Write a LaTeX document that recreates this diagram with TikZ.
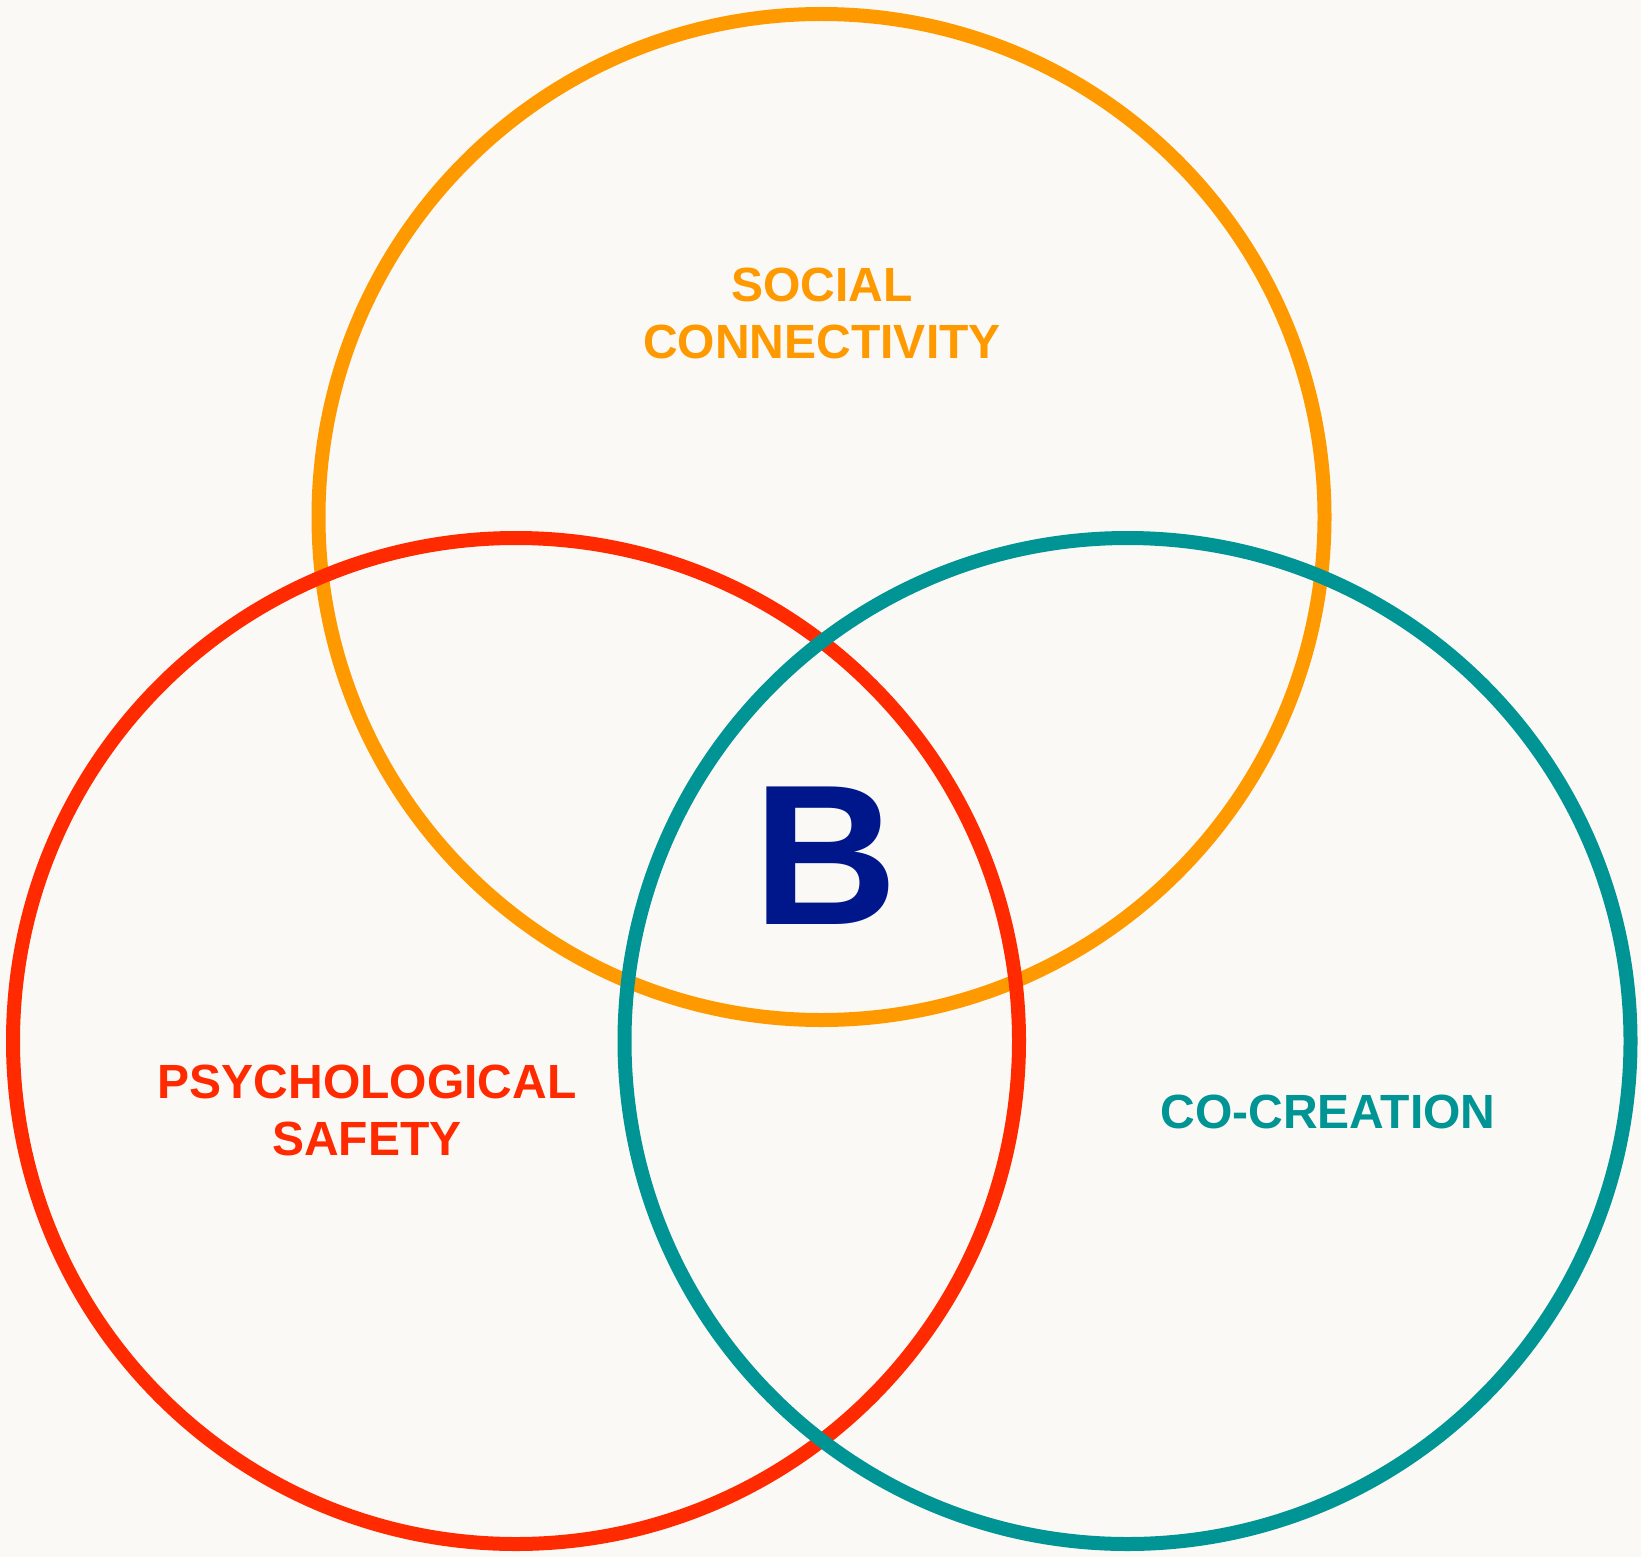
\documentclass[tikz,border=0pt]{standalone}
\usepackage{fontspec}
\setmainfont{Liberation Sans}
\definecolor{bgc}{HTML}{FAF9F5}
\definecolor{orangec}{HTML}{FF9900}
\definecolor{redc}{HTML}{FF2A00}
\definecolor{tealc}{HTML}{009494}
\definecolor{navyc}{HTML}{00178C}
\begin{document}
\begin{tikzpicture}[x=1pt,y=-1pt,
  ring/.style={circle, line width=14pt, minimum size=1006pt, inner sep=0pt},
  lbl/.style={font=\fontsize{48}{57}\selectfont\bfseries, align=center, inner sep=0pt}]
\fill[bgc] (0,0) rectangle (1641,1557);
\useasboundingbox (0,0) rectangle (1641,1557);
\node[ring, draw=orangec] (social) at (821.5,517) {};
\node[ring, draw=redc] (psych) at (516,1041) {};
\node[ring, draw=tealc] (cocre) at (1127.5,1041) {};
\node[lbl, text=orangec] (lsocial) at (822,313) {SOCIAL\\CONNECTIVITY};
\node[lbl, text=redc] (lpsych) at (367,1110.5) {PSYCHOLOGICAL\\SAFETY};
\node[lbl, text=tealc] (lcocre) at (1328,1112) {CO-CREATION};
\node[font=\fontsize{200}{200}\selectfont\bfseries, text=navyc, inner sep=0pt] (b) at (826,855.5) {B};
\end{tikzpicture}
\end{document}
